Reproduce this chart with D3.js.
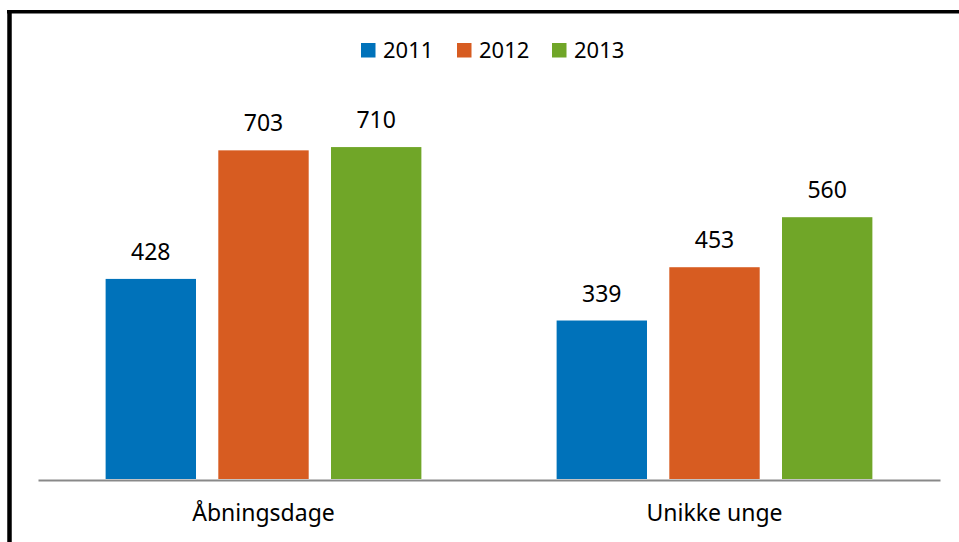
<!DOCTYPE html>
<html>
<head>
<meta charset="utf-8">
<script src="https://cdn.jsdelivr.net/npm/d3@7"></script>
<style>
  body { margin: 0; background: #fff; }
  text { font-family: "Noto Sans", "Open Sans", sans-serif; fill: #000; }
</style>
</head>
<body>
<div id="chart"></div>
<script>
// data
var categories = ["Åbningsdage", "Unikke unge"];
var years = ["2011", "2012", "2013"];
var values2011 = [428, 339];
var values2012 = [703, 453];
var values2013 = [710, 560];
var colors = ["#0072BA", "#D75C21", "#70A628"];

var W = 959, H = 542,
    plot = {left: 38, right: 940, top: 105, bottom: 479},
    fontSize = 23;

var svg = d3.select("#chart").append("svg")
    .attr("width", W)
    .attr("height", H);

// frame (only top and left edges visible)
svg.append("line")
    .attr("x1", 7).attr("x2", W)
    .attr("y1", 11.7).attr("y2", 11.7)
    .attr("stroke", "#000").attr("stroke-width", 3.5);
svg.append("line")
    .attr("x1", 9.5).attr("x2", 9.5)
    .attr("y1", 10).attr("y2", H)
    .attr("stroke", "#000").attr("stroke-width", 4.5);

var series = years.map(function(y, i) {
    return {year: y, values: [values2011, values2012, values2013][i], color: colors[i]};
});

var x0 = d3.scaleBand()
    .domain(categories)
    .range([plot.left, plot.right]);

var x1 = d3.scaleBand()
    .domain(years)
    .range([0, x0.bandwidth()])
    .paddingInner(0.198)
    .paddingOuter(0.6);

var y = d3.scaleLinear()
    .domain([0, 800])
    .range([plot.bottom, plot.top]);

// bars
var groups = svg.append("g").selectAll("g")
    .data(series)
    .enter()
    .append("g")
        .attr("fill", function(d) { return d.color; });

groups.selectAll("rect")
    .data(function(d) { return d.values.map(function(v, i) { return {cat: categories[i], year: d.year, value: v}; }); })
    .enter()
    .append("rect")
        .attr("x", function(d) { return x0(d.cat) + x1(d.year); })
        .attr("y", function(d) { return y(d.value); })
        .attr("width", x1.bandwidth())
        .attr("height", function(d) { return y(0) - y(d.value); });

// value labels
groups.selectAll("text")
    .data(function(d) { return d.values.map(function(v, i) { return {cat: categories[i], year: d.year, value: v}; }); })
    .enter()
    .append("text")
        .attr("x", function(d) { return x0(d.cat) + x1(d.year) + x1.bandwidth() / 2; })
        .attr("y", function(d) { return y(d.value) - 19; })
        .attr("text-anchor", "middle")
        .style("font-size", fontSize + "px")
        .text(function(d) { return d.value; });

// x axis
var xAxis = svg.append("g")
    .attr("transform", "translate(0," + (plot.bottom + 1) + ")")
    .call(d3.axisBottom(x0).tickSize(0).tickPadding(0));
xAxis.select(".domain")
    .attr("stroke", "#898989")
    .attr("stroke-width", 2);
xAxis.selectAll(".tick text")
    .attr("dy", null)
    .attr("y", 41)
    .style("font-size", fontSize + "px")
    .style("font-family", "'Noto Sans', sans-serif")
    .attr("fill", "#000");

// legend
var legendX = [361, 457, 552];
var legend = svg.append("g").selectAll("g")
    .data(series)
    .enter()
    .append("g")
        .attr("transform", function(d, i) { return "translate(" + legendX[i] + ",43)"; });
legend.append("rect")
    .attr("width", 14.5)
    .attr("height", 14.5)
    .attr("fill", function(d) { return d.color; });
legend.append("text")
    .attr("x", 22)
    .attr("y", 14.5)
    .style("font-size", "22px")
    .text(function(d) { return d.year; });
</script>
</body>
</html>
